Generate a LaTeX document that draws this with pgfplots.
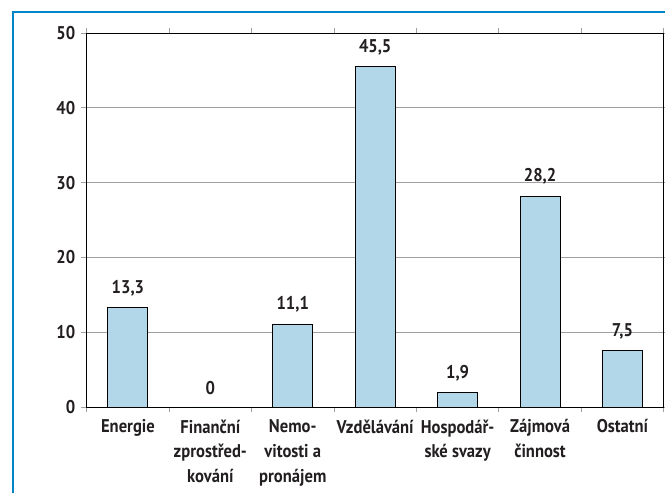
\documentclass[border=0pt]{standalone}
\usepackage{fontspec}
\setmainfont[FakeStretch=0.9]{PT Sans}
\usepackage{pgfplots}
\pgfplotsset{compat=1.18}
\definecolor{barblue}{RGB}{178,215,232}
\definecolor{framblue}{RGB}{0,134,200}
\definecolor{txt}{RGB}{35,31,32}
\definecolor{gridc}{RGB}{160,160,160}
\begin{document}
\begin{tikzpicture}[x=1bp,y=1bp]
\useasboundingbox (0,0) rectangle (665,493);
\draw[framblue, line width=2.2bp] (13,-5) -- (13,481) -- (670,481);
\begin{axis}[
  at={(86.7bp,86bp)}, anchor=south west,
  scale only axis, width=577bp, height=374bp,
  xmin=-0.5, xmax=6.5, ymin=0, ymax=50,
  ytick={0,10,...,50},
  xtick={0,...,6},
  xticklabels={Energie,{Finanční\\zprostřed-\\kování},{Nemo-\\vitosti a\\pronájem},Vzdělávání,{Hospodář-\\ské svazy},{Zájmová\\činnost},Ostatní},
  minor xtick={-0.5,0.5,...,6.5},
  major x tick style={draw=none},
  minor x tick style={gridc, line width=0.8bp},
  y tick style={gridc, line width=0.8bp},
  tick align=outside,
  major tick length=6bp, minor tick length=5bp,
  ymajorgrids, grid style={gridc, line width=0.8bp},
  axis line style={black, line width=0.9bp},
  /pgf/number format/assume math mode=true,
  tick label style={font=\fontsize{18.5}{25}\selectfont\bfseries, text=txt},
  xticklabel style={align=center, yshift=-3bp},
  yticklabel style={xshift=-2bp},
  ybar, bar width=0.485,
  nodes near coords,
  nodes near coords style={font=\fontsize{18.5}{20}\selectfont\bfseries, text=txt, anchor=south, yshift=8bp},
  /pgf/number format/.cd, use comma, fixed, fixed zerofill=false,
]
\addplot[fill=barblue, draw=black, line width=0.9bp, nodes near coords={\pgfmathprintnumber[use comma,fixed,precision=1]{\pgfplotspointmeta}}] coordinates {
(0,13.3) (1,0) (2,11.1) (3,45.5) (4,1.9) (5,28.2) (6,7.5)};
\end{axis}
\end{tikzpicture}
\end{document}
